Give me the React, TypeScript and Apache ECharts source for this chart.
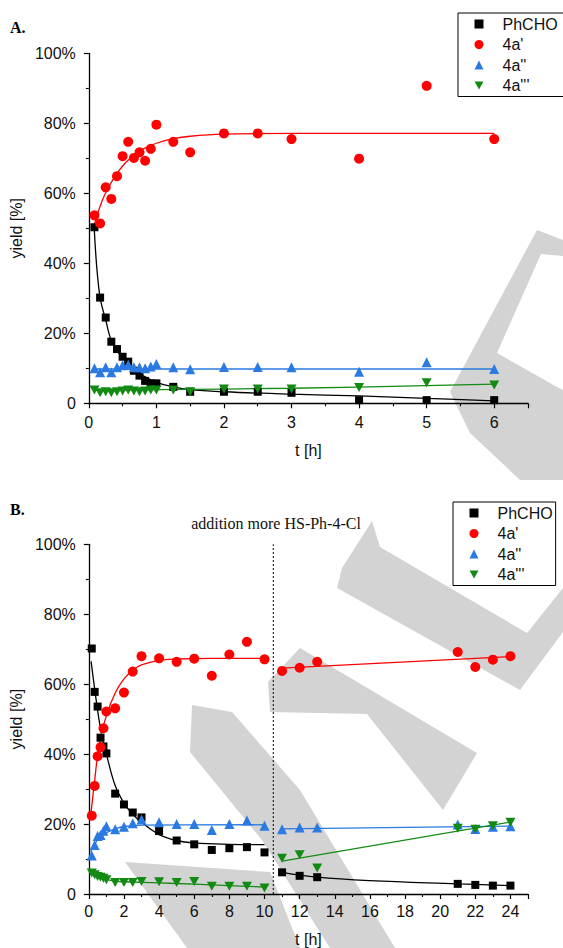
import React, { useEffect, useRef } from "react";
import * as echarts from "echarts";

// ---------- Panel A data (t in hours, yield in %) ----------
const timeA = [0.083, 0.167, 0.25, 0.333, 0.417, 0.5, 0.583, 0.667, 0.75, 0.833, 0.917, 1, 1.25, 1.5, 2, 2.5, 3, 4, 5, 6];
const phchoA = [50.3, 30.2, 24.5, 17.6, 15.5, 13.3, 11.9, 9.3, 7.9, 6.4, 5.7, 5.7, 4.7, 3.3, 3.3, 3.3, 3.0, 0.9, 0.9, 0.9];
const a1A = [53.7, 51.4, 61.7, 58.4, 64.9, 70.6, 74.7, 70.1, 71.7, 69.3, 72.7, 79.6, 74.7, 71.7, 77.1, 77.1, 75.5, 69.9, 90.7, 75.5];
const a2A = [10.0, 8.9, 10.3, 8.9, 10.3, 10.9, 11.0, 10.3, 10.3, 10.0, 10.5, 11.2, 10.3, 9.7, 10.4, 10.4, 10.3, 9.0, 11.7, 9.8];
const a3A = [3.8, 3.0, 3.3, 3.0, 3.3, 3.5, 3.8, 3.5, 3.3, 3.5, 3.8, 3.8, 3.8, 3.3, 4.1, 4.1, 4.1, 4.5, 5.9, 5.2];

// fitted curves of panel A: [t, yield]
const fitPhchoA = [[0.08, 50], [0.157, 31.4], [0.25, 23.8], [0.35, 17.1], [0.5, 13.0], [0.65, 10.0], [0.8, 7.9], [1, 6.0], [1.25, 4.7], [1.5, 3.9], [2, 3.3], [3, 2.6], [4, 2.1], [5, 1.4], [6, 0.7]];
const fitA1A = [[0.08, 51], [0.2, 58], [0.3, 62], [0.4, 65.2], [0.5, 67.8], [0.6, 69.8], [0.7, 71.3], [0.8, 72.6], [1.0, 74.3], [1.25, 75.6], [1.5, 76.3], [2, 76.9], [3, 77.1], [6, 77.1]];
const fitA2A = [[0.08, 9.8], [6, 9.8]];
const fitA3A = [[0.08, 3.7], [1, 3.9], [3, 4.3], [6, 5.5]];

// ---------- Panel B data ----------
const timeB = [0.167, 0.333, 0.5, 0.667, 0.833, 1, 1.5, 2, 2.5, 3, 4, 5, 6, 7, 8, 9, 10, 11, 12, 13, 21, 22, 23, 24];
const phchoB = [70.2, 57.8, 53.6, 44.7, 42.2, 40.2, 28.7, 25.6, 23.3, 21.9, 18.0, 15.3, 14.2, 12.6, 13.1, 13.4, 11.9, 6.2, 5.2, 4.8, 2.9, 2.6, 2.4, 2.4];
const a1B = [22.4, 30.9, 39.4, 42.0, 47.4, 52.2, 53.1, 57.6, 63.6, 68.0, 67.4, 66.4, 67.3, 62.4, 68.5, 72.1, 67.1, 63.8, 64.7, 66.4, 69.2, 64.9, 67.0, 68.0];
const a2B = [11.0, 14.0, 16.6, 16.9, 18.1, 19.4, 18.5, 19.2, 20.2, 21.3, 20.5, 20.0, 20.0, 18.3, 20.0, 21.0, 19.5, 18.5, 19.0, 19.0, 19.9, 18.6, 19.2, 19.4];
const a3B = [6.0, 5.5, 5.0, 4.8, 4.5, 4.1, 3.3, 3.3, 3.3, 3.6, 3.5, 3.3, 3.6, 2.2, 2.2, 2.2, 1.7, 10.2, 11.2, 7.4, 18.8, 18.5, 19.5, 20.5];

const fitPhchoB1 = [[0.13, 66.5], [0.5, 52.5], [0.75, 45], [1, 40], [1.5, 31], [2, 26], [2.5, 22.8], [3, 20.5], [4, 17], [5, 15.3], [6, 14.6], [8, 14.2], [10, 14.1]];
const fitPhchoB2 = [[11, 6.2], [13, 4.8], [16, 3.8], [21, 2.9], [24, 2.4]];
const fitA1B1 = [[0.1, 22], [0.3, 31], [0.6, 43], [1, 51], [1.5, 57.5], [2, 61.5], [2.5, 64], [3, 65.5], [4, 66.8], [5, 67.2], [7, 67.4], [10, 67.4]];
const fitA1B2 = [[11, 64.6], [24, 67.9]];
const fitA2B1 = [[0.1, 12], [0.5, 15.5], [1, 17.5], [1.5, 18.6], [2, 19.3], [3, 19.7], [10, 19.8]];
const fitA2B2 = [[11, 18.6], [24, 19.4]];
const fitA3B1 = [[0.1, 6.0], [0.5, 5.0], [1, 4.2], [1.5, 3.7], [2, 3.5], [4, 3.2], [6, 2.8], [8, 2.4], [10, 2.0]];
const fitA3B2 = [[11, 9.4], [24, 20.6]];

const additionTime = 10.5;

const names = ["PhCHO", "4a'", "4a''", "4a'''"];
const yTicks = [0, 20, 40, 60, 80, 100];

const COLORS = ["#000000", "#ff0000", "#2a7ae2", "#138a13"];
const DOWN_TRI = "path://M0,0L10,0L5,9Z";
const SYMBOLS = ["rect", "circle", "triangle", DOWN_TRI];
const SIZES: any[] = [8, 10, 10, [10, 9]];
const FONT = "Liberation Sans, Arial, sans-serif";

// light grey watermark shapes behind the plots (pixel outlines)
const WM_GREY = "#d3d3d3";
const watermarkGrey = [
  [[537, 230], [563, 240], [563, 480], [520, 480], [470, 433], [450, 392]],
  [[372, 521], [380, 547], [527, 633], [563, 588], [563, 632], [520, 690], [337, 588], [342, 568]],
  [[300, 648], [477, 753], [443, 810], [367, 714], [270, 712], [268, 682]],
  [[192, 705], [232, 712], [300, 790], [395, 948], [330, 948], [262, 840], [190, 752]],
  [[125, 862], [270, 872], [300, 948], [187, 948]],
];
const watermarkWhite = [
  [[541, 254], [563, 256], [563, 390], [557, 387], [497, 353]],
];

export default function App() {
  const ref = useRef<HTMLDivElement>(null);
  useEffect(() => {
    document.body.style.margin = "0";
    const chart = echarts.init(ref.current!, null, { renderer: "svg" });

    const zip = (t: number[], v: number[]) => t.map((x, i) => [x, v[i]]);
    const scatter = (idx: number, data: any[], k: number) => ({
      type: "scatter",
      name: names[k],
      xAxisIndex: idx,
      yAxisIndex: idx,
      data,
      symbol: SYMBOLS[k],
      symbolSize: SIZES[k],
      itemStyle: { color: COLORS[k], opacity: 1 },
      z: 3,
    });
    const fit = (idx: number, data: any[], k: number, smooth = true) => ({
      type: "line",
      name: "fit" + k,
      xAxisIndex: idx,
      yAxisIndex: idx,
      data,
      smooth: smooth ? 0.4 : false,
      showSymbol: false,
      symbol: "none",
      lineStyle: { color: COLORS[k], width: 1.3 },
      z: 2,
    });

    const xAxisCommon = {
      type: "value",
      axisLine: { show: true, onZero: false, lineStyle: { color: "#000", width: 1.3 } },
      axisTick: { show: true, inside: false, length: 5, lineStyle: { color: "#000", width: 1.2 } },
      minorTick: { show: true, splitNumber: 2, length: 3, lineStyle: { color: "#000", width: 1.1 } },
      splitLine: { show: false },
      nameLocation: "middle",
      nameTextStyle: { fontSize: 16, color: "#111", fontFamily: FONT },
    };
    const yAxisCommon = {
      type: "value",
      min: 0,
      max: 100,
      interval: 20,
      axisLine: { show: true, onZero: false, lineStyle: { color: "#000", width: 1.3 } },
      axisTick: { show: true, inside: false, length: 5, lineStyle: { color: "#000", width: 1.2 } },
      minorTick: { show: true, splitNumber: 2, length: 3, lineStyle: { color: "#000", width: 1.1 } },
      splitLine: { show: false },
      axisLabel: {
        fontSize: 16,
        color: "#111",
        fontFamily: FONT,
        margin: 13,
        formatter: (v: number) => (yTicks.includes(v) ? (v === 0 ? "0" : v + "%") : ""),
      },
      name: "yield [%]",
      nameLocation: "middle",
      nameGap: 57,
      nameTextStyle: { fontSize: 16, color: "#111", fontFamily: FONT },
    };

    const legendData = names.map((n, k) => ({ name: n, icon: SYMBOLS[k] }));
    const legendCommon = {
      orient: "vertical",
      data: legendData,
      itemWidth: 9,
      itemHeight: 9,
      itemGap: 4.5,
      borderColor: "#000",
      borderWidth: 1,
      backgroundColor: "#fff",
      textStyle: { fontSize: 16, color: "#111", fontFamily: FONT, padding: [0, 0, 0, 14] },
      selectedMode: false,
    };

    const poly = (pts: number[][], fill: string, z: number) => ({
      type: "polygon",
      z,
      silent: true,
      shape: { points: pts },
      style: { fill },
    });

    chart.setOption({
      animation: false,
      textStyle: { fontFamily: FONT },
      grid: [
        { left: 86, top: 53.3, width: 442, height: 350 },
        { left: 86, top: 544.3, width: 442, height: 351.7 },
      ],
      xAxis: [
        {
          ...xAxisCommon,
          gridIndex: 0,
          min: 0,
          max: 6.5,
          interval: 1,
          name: "t [h]",
          nameGap: 39,
          axisLabel: {
            fontSize: 16, color: "#111", fontFamily: FONT, margin: 11,
            formatter: (v: number) => (Number.isInteger(v) ? String(v) : ""),
          },
        },
        {
          ...xAxisCommon,
          gridIndex: 1,
          min: 0,
          max: 25,
          interval: 2,
          name: "t [h]",
          nameGap: 37,
          axisLabel: {
            fontSize: 16, color: "#111", fontFamily: FONT, margin: 9,
            formatter: (v: number) => (v % 2 === 0 ? String(v) : ""),
          },
        },
      ],
      yAxis: [
        { ...yAxisCommon, gridIndex: 0 },
        { ...yAxisCommon, gridIndex: 1 },
      ],
      legend: [
        { ...legendCommon, left: 458, top: 13, padding: [3, 12, 3, 16.5] },
        { ...legendCommon, left: 453, top: 502, padding: [3, 3, 3, 16.5] },
      ],
      graphic: [
        ...watermarkGrey.map((p) => poly(p, WM_GREY, -10)),
        ...watermarkWhite.map((p) => poly(p, "#ffffff", -9)),
        {
          type: "text", left: 10, top: 19,
          style: { text: "A.", font: "bold 16px 'Liberation Serif', serif", fill: "#000" },
        },
        {
          type: "text", left: 10, top: 501,
          style: { text: "B.", font: "bold 16px 'Liberation Serif', serif", fill: "#000" },
        },
        {
          type: "text", x: 276, y: 523,
          style: {
            text: "addition more HS-Ph-4-Cl",
            font: "16px 'Liberation Serif', serif",
            fill: "#111",
            align: "center",
            verticalAlign: "middle",
          },
        },
      ],
      series: [
        fit(0, fitPhchoA, 0),
        fit(0, fitA1A, 1),
        fit(0, fitA2A, 2, false),
        fit(0, fitA3A, 3),
        scatter(0, zip(timeA, phchoA), 0),
        scatter(0, zip(timeA, a1A), 1),
        scatter(0, zip(timeA, a2A), 2),
        scatter(0, zip(timeA, a3A), 3),

        fit(1, fitPhchoB1, 0),
        fit(1, fitPhchoB2, 0),
        fit(1, fitA1B1, 1),
        fit(1, fitA1B2, 1, false),
        fit(1, fitA2B1, 2),
        fit(1, fitA2B2, 2, false),
        fit(1, fitA3B1, 3),
        fit(1, fitA3B2, 3, false),
        scatter(1, zip(timeB, phchoB), 0),
        scatter(1, zip(timeB, a1B), 1),
        scatter(1, zip(timeB, a2B), 2),
        scatter(1, zip(timeB, a3B), 3),
        {
          type: "line",
          name: "addition",
          xAxisIndex: 1,
          yAxisIndex: 1,
          data: [[additionTime, 0], [additionTime, 100]],
          showSymbol: false,
          symbol: "none",
          lineStyle: { color: "#000", width: 1, type: [2, 2] },
          z: 1,
        },
      ],
    });
    return () => chart.dispose();
  }, []);
  return <div ref={ref} style={{ width: 563, height: 948 }} />;
}
